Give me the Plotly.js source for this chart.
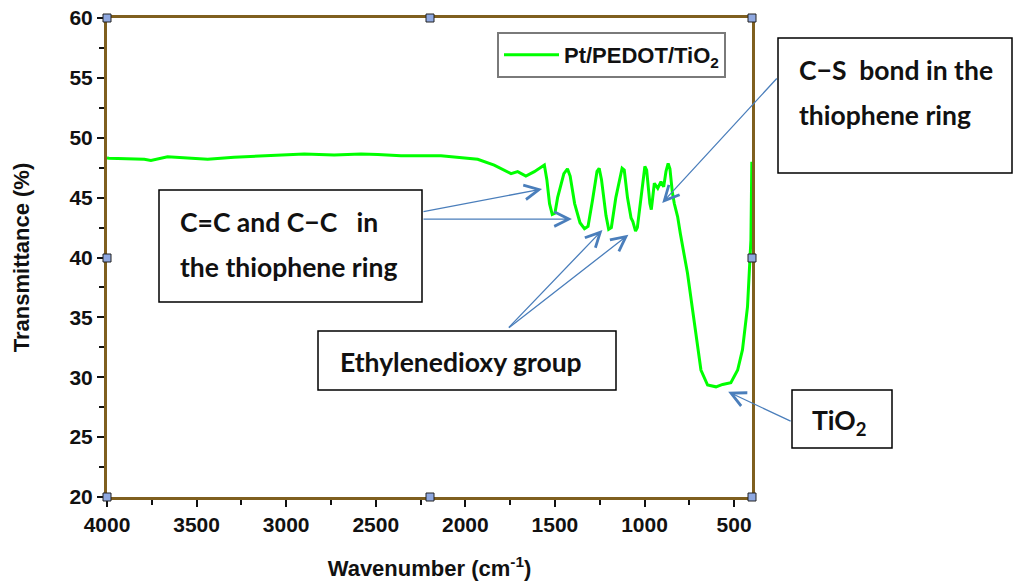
<!DOCTYPE html>
<html>
<head>
<meta charset="utf-8">
<script src="https://cdn.plot.ly/plotly-3.0.1.min.js"></script>
<style>html,body{margin:0;padding:0;background:#fff;}#chart{width:1018px;height:585px;}</style>
</head>
<body>
<div id="chart"></div>
<script>
// ---- data ----
var wavenumber = [4000, 3989, 3792, 3755, 3662, 3438, 3291, 3104, 2899, 2732, 2582, 2489, 2359, 2136, 1931, 1839, 1745, 1708, 1662, 1615, 1559,
  1545, 1530, 1515, 1500, 1485, 1450, 1430, 1415, 1390, 1360, 1335, 1315, 1290, 1265, 1253, 1240, 1215, 1200, 1185, 1160, 1125, 1113,
  1095, 1075, 1065, 1050, 1040, 1020, 998, 988, 970, 962, 952, 945, 926, 908, 893, 880, 868, 858, 845, 834, 815,
  800, 760, 723, 685, 648, 601, 564, 518, 480, 453, 425, 416, 406, 401];
var transmittance = [48.3, 48.28, 48.2, 48.1, 48.42, 48.2, 48.37, 48.5, 48.64, 48.56, 48.64, 48.6, 48.5, 48.5, 48.2, 47.72, 47.0, 47.17, 46.8, 47.17, 47.72,
  46.5, 44.5, 43.6, 43.7, 45.0, 47.0, 47.4, 46.8, 44.5, 42.9, 42.4, 42.6, 44.8, 47.2, 47.45, 46.5, 43.5, 42.35, 42.5, 45.0, 47.45, 47.3,
  45.0, 43.3, 43.0, 42.2, 42.5, 45.0, 47.6, 47.3, 44.5, 44.0, 45.5, 46.2, 45.78, 46.33, 45.9, 47.2, 47.86, 47.4, 45.5, 44.53, 43.4,
  42.0, 38.68, 34.5, 30.6, 29.35, 29.2, 29.4, 29.55, 30.6, 32.3, 35.9, 39.2, 41.46, 48.0];
var seriesName = 'Pt/PEDOT/TiO<sub>2</sub>';
var xTickVals = [4000, 3500, 3000, 2500, 2000, 1500, 1000, 500];
var yTickVals = [20, 25, 30, 35, 40, 45, 50, 55, 60];

// ---- layout geometry ----
var W = 1018, H = 585, ML = 107, MR = 266, MT = 18, MB = 88;
var PW = W - ML - MR, PH = H - MT - MB;
function px(x) { return (x - ML) / PW; }
function py(y) { return (H - MB - y) / PH; }

var axisColor = '#7f5f1f';
var arrowColor = '#4a7ebb';
var boxFont = {family: 'Lato, "Open Sans", sans-serif', size: 26.5, color: '#111', weight: 'bold'};

var boxes = [
  [159, 190, 422, 302],
  [318, 331, 616, 390],
  [778, 38, 1012, 173],
  [792, 390, 892, 448]
];
var shapes = boxes.map(function (b) {
  return {type: 'rect', xref: 'paper', yref: 'paper', x0: px(b[0]), x1: px(b[2]), y0: py(b[3]), y1: py(b[1]),
    line: {color: '#000', width: 1.5}, fillcolor: '#fff', layer: 'above'};
});

// small selection handles on the frame
var handles = [[107, 18], [430, 18], [752, 18], [107, 258], [752, 258], [107, 497], [430, 497], [752, 497]];
handles.forEach(function (h) {
  shapes.push({type: 'rect', xref: 'paper', yref: 'paper', x0: px(h[0] - 4), x1: px(h[0] + 4), y0: py(h[1] + 4), y1: py(h[1] - 4),
    line: {color: '#222', width: 1}, fillcolor: '#8fa8e0', layer: 'above'});
});

var labels = [
  ['C=C and C\u2212C\u00a0\u00a0 in', 178, 222],
  ['the thiophene ring', 178, 267],
  ['Ethylenedioxy group', 338, 362],
  ['C\u2212S\u00a0 bond in the', 797, 70],
  ['thiophene ring', 797, 115],
  ['TiO<sub>2</sub>', 810, 422]
];
var annotations = labels.map(function (l) {
  return {text: l[0], xref: 'paper', yref: 'paper', x: px(l[1]), y: py(l[2]), xanchor: 'left', yanchor: 'middle',
    showarrow: false, font: boxFont};
});

// arrows: [tailWavenumber, tailT, tipWavenumber, tipT]
var arrows = [
  [2242, 43.8, 1572, 45.72],
  [2242, 43.21, 1405, 43.21],
  [1765, 34.04, 1235, 42.3],
  [1765, 34.04, 1090, 41.9],
  [254, 55.07, 901, 44.56],
  [176, 26.28, 533, 28.78]
];
arrows.forEach(function (a) {
  annotations.push({text: '', x: a[2], y: a[3], xref: 'x', yref: 'y', axref: 'x', ayref: 'y', ax: a[0], ay: a[1],
    showarrow: true, arrowhead: 5, arrowsize: 2.2, arrowwidth: 1.3, arrowcolor: arrowColor, standoff: 0});
});

var trace = {
  x: wavenumber, y: transmittance, type: 'scatter', mode: 'lines', name: seriesName,
  line: {color: '#00ff00', width: 3}
};

var tickFont = {family: 'Arial, "Liberation Sans", sans-serif', size: 21, color: '#111', weight: 'bold'};

var layout = {
  width: W, height: H,
  margin: {l: ML, r: MR, t: MT, b: MB, pad: 0},
  paper_bgcolor: '#fff', plot_bgcolor: '#fff',
  showlegend: true,
  legend: {x: px(497), y: py(32), xanchor: 'left', yanchor: 'top', bgcolor: '#fff', bordercolor: '#7a7a7a', borderwidth: 2,
    font: {family: 'Arial, "Liberation Sans", sans-serif', size: 22, color: '#111', weight: 'bold'}, itemwidth: 55},
  xaxis: {
    range: [4000, 400], autorange: false, tickvals: xTickVals, ticktext: xTickVals.map(String),
    showgrid: false, zeroline: false, showline: true, linecolor: axisColor, linewidth: 3, mirror: true,
    ticks: 'outside', ticklen: 7, tickwidth: 2, tickcolor: '#111', tickfont: tickFont,
    minor: {dtick: 250, tick0: 0, ticks: 'outside', ticklen: 5, tickwidth: 2, tickcolor: '#111', showgrid: false},
    title: {text: 'Wavenumber (cm<sup>-1</sup>)', font: {family: 'Arial, "Liberation Sans", sans-serif', size: 22, color: '#111', weight: 'bold'}, standoff: 26}
  },
  yaxis: {
    range: [20, 60], autorange: false, tickvals: yTickVals, ticktext: yTickVals.map(String),
    showgrid: false, zeroline: false, showline: true, linecolor: axisColor, linewidth: 3, mirror: true,
    ticks: 'outside', ticklen: 7, tickwidth: 2, tickcolor: '#111', tickfont: tickFont,
    minor: {dtick: 2.5, tick0: 0, ticks: 'outside', ticklen: 5, tickwidth: 2, tickcolor: '#111', showgrid: false},
    title: {text: 'Transmittance (%)', font: {family: 'Arial, "Liberation Sans", sans-serif', size: 22, color: '#111', weight: 'bold'}, standoff: 34}
  },
  shapes: shapes,
  annotations: annotations
};

Plotly.newPlot('chart', [trace], layout, {displayModeBar: false, staticPlot: true});
</script>
</body>
</html>
